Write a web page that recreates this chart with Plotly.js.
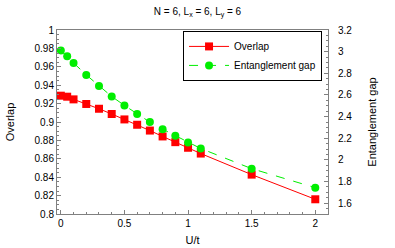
<!DOCTYPE html>
<html>
<head>
<meta charset="utf-8">
<script src="https://cdn.plot.ly/plotly-3.0.1.min.js"></script>
<style>html,body{margin:0;padding:0;background:#fff;}#chart{width:395px;height:248px;}</style>
</head>
<body>
<div id="chart"></div>
<script>
const uValues = [0, 0.05, 0.1, 0.2, 0.3, 0.4, 0.5, 0.6, 0.7, 0.8, 0.9, 1.0, 1.1, 1.5, 2.0];
const overlap = [0.9286, 0.9275, 0.9246, 0.9196, 0.9144, 0.9087, 0.9028, 0.8970, 0.8907, 0.8843, 0.8781, 0.8720, 0.8657, 0.8428, 0.8160];
const entGap = [3.010, 2.957, 2.896, 2.785, 2.683, 2.586, 2.503, 2.423, 2.349, 2.284, 2.222, 2.160, 2.105, 1.919, 1.743];
const xTicks = [0, 0.5, 1, 1.5, 2];
const xTickText = ['0', '0.5', '1', '1.5', '2'];
const yTicks = [0.8, 0.82, 0.84, 0.86, 0.88, 0.9, 0.92, 0.94, 0.96, 0.98, 1];
const yTickText = ['0.8', '0.82', '0.84', '0.86', '0.88', '0.9', '0.92', '0.94', '0.96', '0.98', '1'];
const y2Ticks = [1.6, 1.8, 2, 2.2, 2.4, 2.6, 2.8, 3, 3.2];
const y2TickText = ['1.6', '1.8', '2', '2.2', '2.4', '2.6', '2.8', '3', '3.2'];

const font = 'Liberation Sans, Arial, sans-serif';
const axisCommon = {
  showgrid: false, zeroline: false, showline: true, linecolor: '#808080', linewidth: 1,
  ticks: 'inside', ticklen: 4, tickcolor: '#808080', tickwidth: 1,
  tickfont: {family: font, size: 10, color: '#000'}
};

const traces = [
  {x: uValues, y: overlap, name: 'Overlap', type: 'scatter', mode: 'lines+markers',
   line: {color: '#ff0000', width: 1}, marker: {symbol: 'square', size: 8, color: '#ff0000'}},
  {x: uValues, y: entGap, name: 'Entanglement gap', type: 'scatter', mode: 'lines+markers', yaxis: 'y2',
   line: {color: '#00ee00', width: 1, dash: 'dash'}, marker: {symbol: 'circle', size: 8, color: '#00ee00'}}
];

const layout = {
  width: 395, height: 248,
  margin: {l: 57, r: 67, t: 30, b: 34},
  paper_bgcolor: '#fff', plot_bgcolor: '#fff',
  font: {family: font, size: 10, color: '#000'},
  title: {text: 'N = 6, L<sub>x</sub> = 6, L<sub>y</sub> = 6', font: {family: font, size: 10}, x: 0.5, xanchor: 'center', y: 0.955, yanchor: 'middle'},
  showlegend: true,
  legend: {x: 0.978, xanchor: 'right', y: 0.995, yanchor: 'top', bgcolor: '#fff', bordercolor: '#000', borderwidth: 1,
           font: {family: font, size: 10}, tracegroupgap: 0, itemwidth: 40},
  xaxis: Object.assign({}, axisCommon, {
    range: [-0.03, 2.1], tickvals: xTicks, ticktext: xTickText, mirror: true,
    minor: {dtick: 0.1, ticks: 'inside', ticklen: 2, tickcolor: '#808080'},
    title: {text: 'U/t', font: {family: font, size: 11}, standoff: 8}
  }),
  yaxis: Object.assign({}, axisCommon, {
    range: [0.8, 1], tickvals: yTicks, ticktext: yTickText, mirror: true,
    minor: {dtick: 0.005, ticks: 'inside', ticklen: 2, tickcolor: '#808080'},
    title: {text: 'Overlap', font: {family: font, size: 11}, standoff: 17}
  }),
  yaxis2: Object.assign({}, axisCommon, {
    overlaying: 'y', side: 'right', range: [1.5, 3.2], tickvals: y2Ticks, ticktext: y2TickText,
    ticklabelstandoff: 7,
    minor: {dtick: 0.05, ticks: 'inside', ticklen: 2, tickcolor: '#808080'},
    title: {text: 'Entanglement gap', font: {family: font, size: 11}, standoff: 16}
  })
};

Plotly.newPlot('chart', traces, layout, {displayModeBar: false, staticPlot: true});
</script>
</body>
</html>
